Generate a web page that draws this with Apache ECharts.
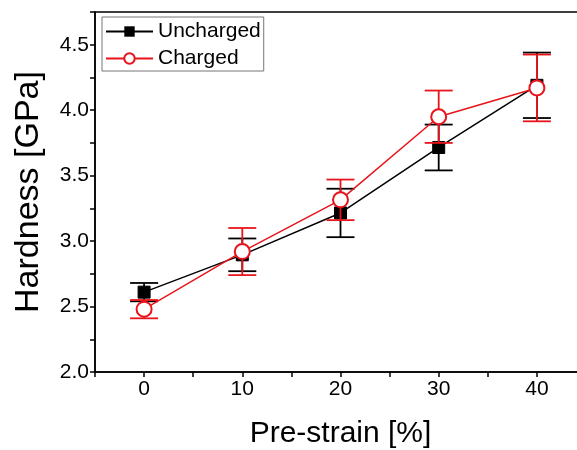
<!DOCTYPE html>
<html>
<head>
<meta charset="utf-8">
<script src="https://cdn.jsdelivr.net/npm/echarts@6/dist/echarts.min.js"></script>
<style>
html,body{margin:0;padding:0;background:#fff;}
#c{width:577px;height:450px;}
</style>
</head>
<body>
<div id="c"></div>
<script>
// Data
const preStrain = [0, 10, 20, 30, 40];
const unchargedMean = [2.61, 2.895, 3.215, 3.715, 4.19];
const unchargedErr = [0.07, 0.125, 0.185, 0.175, 0.25];
const chargedMean = [2.48, 2.92, 3.315, 3.95, 4.17];
const chargedErr = [0.07, 0.18, 0.155, 0.2, 0.255];
const xTickLabels = [0, 10, 20, 30, 40];
const yTickLabels = [2.0, 2.5, 3.0, 3.5, 4.0, 4.5];

const FONT = 'Liberation Sans, Arial, sans-serif';

function pts(xs, ys) { return xs.map((x, i) => [x, ys[i]]); }
function errData(xs, m, e) { return xs.map((x, i) => [x, m[i] - e[i], m[i] + e[i]]); }

function errRender(color) {
  return function (params, api) {
    const x = api.value(0);
    const lo = api.coord([x, api.value(1)]);
    const hi = api.coord([x, api.value(2)]);
    const cap = 14;
    const style = { stroke: color, lineWidth: 1.8 };
    return {
      type: 'group',
      children: [
        { type: 'line', shape: { x1: lo[0], y1: lo[1], x2: hi[0], y2: hi[1] }, style: style },
        { type: 'line', shape: { x1: lo[0] - cap, y1: lo[1], x2: lo[0] + cap, y2: lo[1] }, style: style },
        { type: 'line', shape: { x1: hi[0] - cap, y1: hi[1], x2: hi[0] + cap, y2: hi[1] }, style: style }
      ]
    };
  };
}

const chart = echarts.init(document.getElementById('c'), null, { renderer: 'canvas' });
chart.setOption({
  animation: false,
  backgroundColor: '#fff',
  textStyle: { fontFamily: FONT },
  grid: {
    left: 95, top: 12, right: -9, bottom: 78,
    containLabel: false, outerBoundsMode: 'none',
    show: true, borderColor: '#000', borderWidth: 1.5, backgroundColor: 'transparent'
  },
  legend: {
    data: ['Uncharged', 'Charged'],
    orient: 'vertical',
    left: 102, top: 17,
    padding: [4, 3, 2, 3],
    itemGap: 6,
    itemWidth: 47, itemHeight: 13,
    borderColor: '#777', borderWidth: 1,
    textStyle: { fontSize: 21, color: '#000', fontFamily: FONT, lineHeight: 20 }
  },
  xAxis: {
    type: 'value', min: -5, max: 45, interval: 5,
    name: 'Pre-strain [%]', nameLocation: 'middle', nameGap: 47,
    nameTextStyle: { fontSize: 30, color: '#000', fontFamily: FONT },
    axisLine: { onZero: false, lineStyle: { color: '#000', width: 1.5 } },
    axisTick: { show: true, length: 5, lineStyle: { color: '#000', width: 1.5 } },
    axisLabel: {
      fontSize: 21, color: '#000', margin: 7, fontFamily: FONT,
      formatter: v => (xTickLabels.indexOf(v) >= 0 ? String(v) : '')
    },
    splitLine: { show: false }
  },
  yAxis: {
    type: 'value', min: 2.0, max: 4.75, interval: 0.25,
    name: 'Hardness [GPa]', nameLocation: 'middle', nameGap: 49,
    nameTextStyle: { fontSize: 34, color: '#000', fontFamily: FONT },
    axisLine: { show: true, onZero: false, lineStyle: { color: '#000', width: 1.5 } },
    axisTick: { show: true, length: 5, lineStyle: { color: '#000', width: 1.5 } },
    axisLabel: {
      fontSize: 21, color: '#000', margin: 6, fontFamily: FONT,
      formatter: v => {
        const hit = yTickLabels.find(t => Math.abs(t - v) < 1e-6);
        return hit !== undefined ? hit.toFixed(1) : '';
      }
    },
    splitLine: { show: false }
  },
  series: [
    {
      name: 'errU', type: 'custom', renderItem: errRender('#000'),
      data: errData(preStrain, unchargedMean, unchargedErr), z: 2,
      encode: { x: 0, y: [1, 2] }
    },
    {
      name: 'Uncharged', type: 'line', data: pts(preStrain, unchargedMean),
      symbol: 'rect', symbolSize: 12, z: 3,
      lineStyle: { color: '#000', width: 1.5 },
      itemStyle: { color: '#000', borderColor: '#000' }
    },
    {
      name: 'errC', type: 'custom', renderItem: errRender('#e8141b'),
      data: errData(preStrain, chargedMean, chargedErr), z: 4,
      encode: { x: 0, y: [1, 2] }
    },
    {
      name: 'Charged', type: 'line', data: pts(preStrain, chargedMean),
      symbol: 'circle', symbolSize: 15, z: 5,
      lineStyle: { color: '#e8141b', width: 1.5 },
      itemStyle: { color: '#fff', borderColor: '#e8141b', borderWidth: 2 }
    }
  ]
});
</script>
</body>
</html>
